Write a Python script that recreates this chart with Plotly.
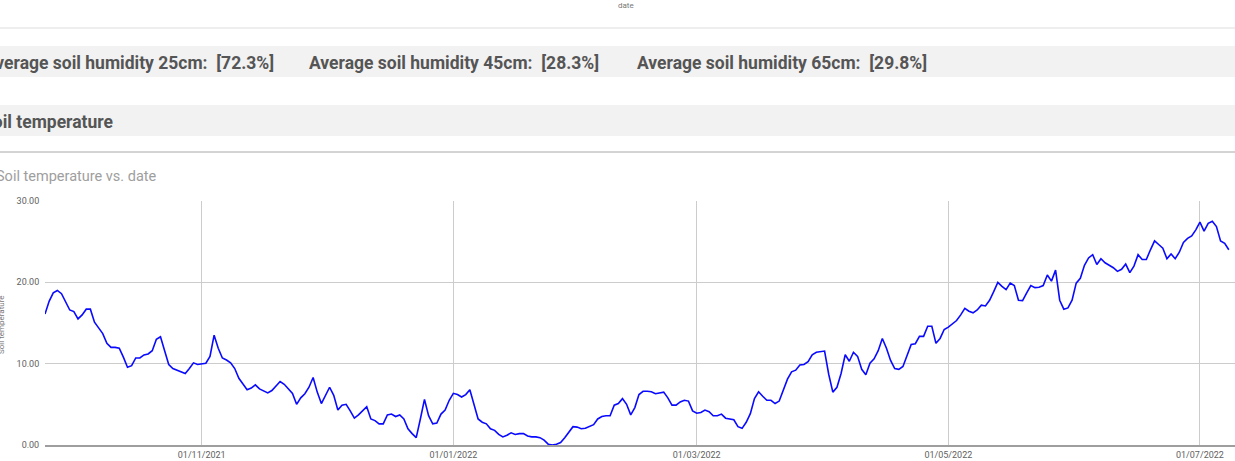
import pandas as pd
import plotly.graph_objects as go

# ---------------- data ----------------
start_date = "2021-09-24"
soil_temperature = [
    16.1, 17.66, 18.7, 19.0, 18.6, 17.5, 16.6, 16.4, 15.5, 16.0,
    16.7, 16.7, 15.1, 14.4, 13.7, 12.5, 12.0, 12.0, 11.9, 10.8,
    9.55, 9.75, 10.7, 10.7, 11.07, 11.2, 11.6, 13.0, 13.3, 11.6,
    9.9, 9.4, 9.2, 9.0, 8.8, 9.4, 10.1, 9.9, 10.0, 10.05,
    10.9, 13.5, 11.9, 10.7, 10.45, 10.1, 9.4, 8.2, 7.5, 6.8,
    7.0, 7.4, 6.9, 6.6, 6.4, 6.7, 7.2, 7.8, 7.46, 6.9,
    6.35, 5.0, 5.8, 6.3, 7.1, 8.3, 6.5, 5.1, 6.1, 7.1,
    6.1, 4.3, 4.9, 5.0, 4.2, 3.3, 3.7, 4.2, 4.7, 3.2,
    3.0, 2.6, 2.6, 3.7, 3.8, 3.5, 3.7, 3.2, 2.0, 1.4,
    0.9, 3.2, 5.6, 3.6, 2.6, 2.7, 3.8, 4.3, 5.5, 6.35,
    6.2, 5.9, 6.2, 6.8, 5.0, 3.2, 2.8, 2.6, 2.0, 1.8,
    1.3, 1.0, 1.2, 1.5, 1.3, 1.4, 1.4, 1.1, 1.0, 1.0,
    0.9, 0.6, 0.1, 0.0, 0.1, 0.3, 0.9, 1.6, 2.25, 2.2,
    2.0, 2.05, 2.25, 2.5, 3.2, 3.5, 3.6, 3.6, 4.9, 5.1,
    5.7, 5.0, 3.7, 4.6, 6.2, 6.6, 6.6, 6.55, 6.3, 6.4,
    6.5, 5.8, 4.9, 4.9, 5.3, 5.5, 5.4, 4.2, 3.9, 4.0,
    4.3, 4.1, 3.6, 3.6, 3.8, 3.3, 3.2, 3.1, 2.25, 2.05,
    2.8, 3.85, 5.7, 6.55, 6.0, 5.5, 5.5, 5.1, 5.4, 6.7,
    8.1, 9.0, 9.2, 9.85, 9.9, 10.25, 11.1, 11.4, 11.5, 11.55,
    8.7, 6.5, 7.1, 8.8, 11.1, 10.3, 11.4, 10.9, 9.3, 8.65,
    10.05, 10.6, 11.6, 13.1, 11.9, 10.4, 9.4, 9.3, 9.65, 11.1,
    12.35, 12.45, 13.35, 13.35, 14.6, 14.6, 12.5, 13.1, 14.2, 14.5,
    14.9, 15.3, 16.0, 16.8, 16.45, 16.25, 16.6, 17.2, 17.1, 17.8,
    18.85, 20.0, 19.5, 19.1, 19.9, 19.6, 17.8, 17.75, 18.7, 19.6,
    19.35, 19.4, 19.6, 20.9, 20.15, 21.5, 17.8, 16.7, 16.85, 17.8,
    19.9, 20.5, 22.1, 23.0, 23.4, 22.2, 22.9, 22.4, 22.1, 21.8,
    21.35, 21.6, 22.25, 21.2, 22.0, 23.4, 22.8, 22.8, 24.0, 25.1,
    24.65, 24.2, 22.9, 23.5, 22.9, 23.7, 24.9, 25.4, 25.7, 26.45,
    27.4, 26.3, 27.25, 27.5, 26.85, 25.1, 24.8, 24.0,
]
dates = pd.date_range(start_date, periods=len(soil_temperature), freq="D")

humidity_depths = ["25cm", "45cm", "65cm"]
humidity_values = [72.3, 28.3, 29.8]

y_tick_values = [0, 10, 20, 30]
x_tick_values = ["2021-11-01", "2022-01-01", "2022-03-01", "2022-05-01", "2022-07-01"]

# ---------------- layout helpers (pixel -> paper) ----------------
W, H = 1235, 461
L, R, T, B = 45, 0, 201, 16
PW, PH = W - L - R, H - T - B


def px(x):
    return (x - L) / PW


def py(y):
    return (H - B - y) / PH


FONT = "Roboto"

fig = go.Figure()
fig.add_trace(go.Scatter(
    x=dates, y=soil_temperature, mode="lines",
    line=dict(color="#0a0aff", width=1.6),
    hoverinfo="skip", showlegend=False,
))

shapes = [
    dict(type="line", xref="paper", yref="paper", x0=px(0), x1=px(W), y0=py(28), y1=py(28),
         line=dict(color="#dddddd", width=1)),
    dict(type="rect", xref="paper", yref="paper", x0=px(0), x1=px(W), y0=py(46), y1=py(77),
         fillcolor="#f2f2f2", line=dict(width=0), layer="below"),
    dict(type="rect", xref="paper", yref="paper", x0=px(0), x1=px(W), y0=py(105), y1=py(136),
         fillcolor="#f2f2f2", line=dict(width=0), layer="below"),
    dict(type="line", xref="paper", yref="paper", x0=px(0), x1=px(W), y0=py(152), y1=py(152),
         line=dict(color="#a8a8a8", width=1)),
]

annotations = [
    dict(text="date", xref="paper", yref="paper", x=px(626), y=py(5), xanchor="center",
         yanchor="middle", showarrow=False, font=dict(family=FONT, size=8, color="#777777")),
    dict(text="<b>Soil temperature</b>", xref="paper", yref="paper", x=px(115), y=py(122),
         xanchor="right", yanchor="middle", showarrow=False,
         font=dict(family=FONT, size=17.5, color="#555555")),
    dict(text="Soil temperature vs. date", xref="paper", yref="paper", x=px(159), y=py(177),
         xanchor="right", yanchor="middle", showarrow=False,
         font=dict(family=FONT, size=14.5, color="#9e9e9e")),
    dict(text="Soil temperature", xref="paper", yref="paper", x=px(1), y=py(325),
         xanchor="center", yanchor="middle", textangle=-90, showarrow=False,
         font=dict(family=FONT, size=8, color="#777777")),
]

hum_positions = [(276, "right"), (307, "left"), (635, "left")]
for (xpos, anchor), depth, val in zip(hum_positions, humidity_depths, humidity_values):
    annotations.append(dict(
        text=f"<b>Average soil humidity {depth}:\u00a0 [{val:.1f}%]</b>",
        xref="paper", yref="paper", x=px(xpos), y=py(63), xanchor=anchor, yanchor="middle",
        showarrow=False, font=dict(family=FONT, size=17.5, color="#555555"),
    ))

fig.update_layout(
    width=W, height=H,
    margin=dict(l=L, r=R, t=T, b=B, pad=0),
    paper_bgcolor="white", plot_bgcolor="white",
    shapes=shapes, annotations=annotations,
    showlegend=False,
    xaxis=dict(
        range=["2021-09-24", "2022-07-09 12:00"],
        tickvals=x_tick_values, tickformat="%d/%m/%Y",
        showgrid=True, gridcolor="#cccccc", gridwidth=1,
        showline=True, linecolor="#9e9e9e", linewidth=2,
        ticks="", zeroline=False,
        tickfont=dict(family=FONT, size=9, color="#616161"),
    ),
    yaxis=dict(
        range=[0, 30], tickvals=y_tick_values, tickformat=".2f",
        showgrid=True, gridcolor="#cccccc", gridwidth=1,
        showline=False, zeroline=False,
        ticks="outside", ticklen=3, tickcolor="rgba(0,0,0,0)",
        tickfont=dict(family=FONT, size=9, color="#616161"),
    ),
)

fig.write_html(
    "out.html",
    config={"displayModeBar": False},
    post_script="document.body.style.margin='0';document.body.style.overflow='hidden';",
)
